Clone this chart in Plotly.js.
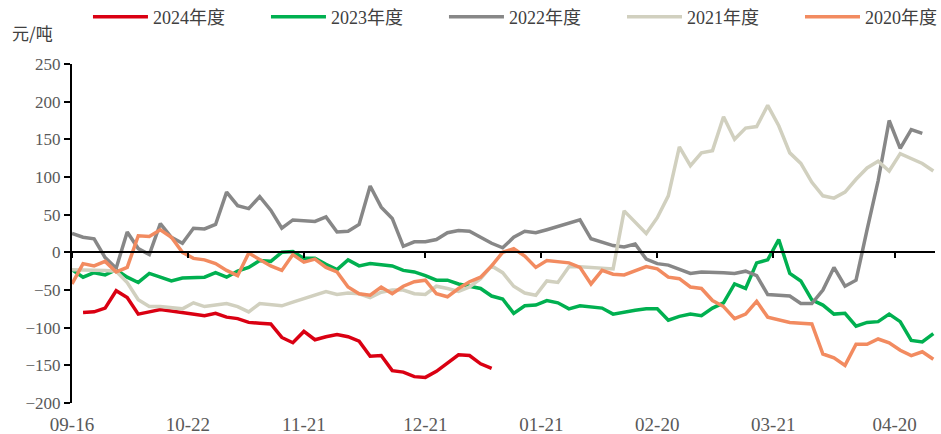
<!DOCTYPE html>
<html>
<head>
<meta charset="utf-8">
<script src="https://cdn.plot.ly/plotly-3.0.1.min.js"></script>
<style>html,body{margin:0;padding:0;background:#fff;}#chart{width:941px;height:434px;}</style>
</head>
<body>
<div id="chart"></div>
<script>
// trading-day index of each sample (every second trading day)
const days = Array.from({length: 79}, (_, k) => 2 * k);

// x-axis tick labels and the trading-day index where each falls
const tickLabels = ['09-16', '10-22', '11-21', '12-21', '01-21', '02-20', '03-21', '04-20'];
const tickDays = [0, 21, 42, 64, 85, 106, 127, 149];

const seriesNames = ['2024年度', '2023年度', '2022年度', '2021年度', '2020年度'];

// values in 元/吨
const y2024 = [null,-80,-79,-74,-51,-60,-82,-79,-76,-78,
  -80,-81,-84,-81,-86,-88,-93,-94,-95,-113,
  -120,-105,-116,-112,-109,-112,-118,-138,-137,-157,
  -159,-165,-166,-158,-147,-136,-137,-148,-154];

const y2023 = [-23,-33,-27,-30,-23,-33,-40,-28,-33,-38,
  -34,-34,-33,-27,-33,-25,-20,-11,-12,0,
  1,-8,-8,-16,-23,-10,-18,-15,-16,-18,
  -24,-26,-31,-37,-37,-42,-45,-48,-58,-62,
  -81,-71,-70,-64,-67,-75,-71,-73,-74,-82,
  -79,-77,-75,-75,-90,-85,-82,-84,-74,-67,
  -42,-48,-14,-10,17,-28,-38,-63,-70,-82,
  -81,-98,-93,-92,-82,-92,-117,-119,-108];

const y2022 = [25,20,18,-7,-21,27,5,-3,38,20,
  12,32,31,37,80,62,58,74,56,32,
  43,42,41,47,27,28,37,88,60,45,
  8,14,14,17,26,29,28,20,12,6,
  20,28,26,30,34,39,43,18,13,9,
  7,11,-9,-15,-17,-22,-28,-26,-26,-27,
  -28,-25,-31,-56,-57,-58,-68,-68,-50,-20,
  -45,-37,30,95,175,138,163,158];

const y2021 = [-23,-23,-24,-24,-25,-40,-63,-72,-72,-74,
  -75,-67,-72,-70,-68,-72,-79,-68,-69,-71,
  -66,-61,-57,-52,-56,-54,-55,-60,-53,-50,
  -50,-55,-56,-45,-48,-52,-46,-35,-18,-27,
  -45,-54,-57,-38,-40,-19,-19,-20,-21,-22,
  55,40,25,46,75,140,115,132,135,180,
  150,165,167,195,168,132,118,93,75,72,
  80,97,112,121,108,131,125,118,108];

const y2020 = [-42,-15,-18,-12,-26,-20,22,21,30,20,
  0,-8,-10,-15,-24,-31,-1,-10,-18,-24,
  -3,-13,-9,-20,-26,-46,-55,-57,-46,-55,
  -45,-39,-37,-55,-59,-48,-39,-33,-18,0,
  5,-5,-20,-11,-13,-14,-20,-42,-24,-29,
  -30,-25,-19,-22,-33,-35,-46,-48,-64,-72,
  -88,-82,-65,-86,-89,-93,-94,-95,-135,-140,
  -150,-122,-122,-115,-120,-130,-137,-132,-142];

const seriesValues = [y2024, y2023, y2022, y2021, y2020];
const colors = ['#DA0012', '#00B050', '#878787', '#D1D0BF', '#F28B60'];
const legendOf = ['legend', 'legend', 'legend', 'legend2', 'legend2'];

const traces = seriesValues.map((vals, i) => ({
  type: 'scatter',
  mode: 'lines',
  name: seriesNames[i],
  legend: legendOf[i],
  x: days.slice(0, vals.length),
  y: vals,
  line: {color: colors[i], width: 3.5},
  connectgaps: false,
  hoverinfo: 'skip'
}));
// carrier for the zero-line axis
traces.push({type: 'scatter', x: [null], y: [null], xaxis: 'x2', showlegend: false, hoverinfo: 'skip'});

const tickFont = {family: 'Liberation Serif, Noto Sans CJK SC, serif', size: 17, color: '#595959'};
const legendFont = {family: 'Liberation Serif, Noto Sans CJK SC, serif', size: 18, color: '#404040'};
const legendBase = {
  orientation: 'h', xanchor: 'left', y: 1.1386, yanchor: 'middle',
  font: legendFont, itemwidth: 55, entrywidth: 108, entrywidthmode: 'pixels',
  bgcolor: 'rgba(0,0,0,0)'
};

const layout = {
  width: 941, height: 434,
  margin: {l: 72, r: 6, t: 64, b: 31, autoexpand: false},
  paper_bgcolor: '#ffffff', plot_bgcolor: '#ffffff',
  showlegend: true,
  legend: Object.assign({}, legendBase, {x: 0.0185}),
  legend2: Object.assign({}, legendBase, {x: 0.6373}),
  xaxis: {
    range: [0, 156.3], tickmode: 'array', tickvals: tickDays, ticktext: tickLabels,
    showline: false, zeroline: false, showgrid: false, ticks: '',
    tickfont: Object.assign({}, tickFont, {size: 19}), ticklabelstandoff: 8
  },
  xaxis2: {
    overlaying: 'x', anchor: 'free', position: 200 / 450, side: 'bottom',
    range: [0, 156.3], tickmode: 'array', tickvals: tickDays, showticklabels: false,
    showline: true, linecolor: '#000000', linewidth: 2,
    ticks: 'outside', ticklen: 5, tickwidth: 2, tickcolor: '#000000',
    showgrid: false, zeroline: false
  },
  yaxis: {
    range: [-200, 250], tick0: 0, dtick: 50,
    showline: true, linecolor: '#000000', linewidth: 2,
    ticks: 'outside', ticklen: 6, tickwidth: 2, tickcolor: '#000000',
    showgrid: false, zeroline: false, tickfont: tickFont
  },
  annotations: [{
    text: '元/吨', xref: 'paper', yref: 'paper', x: -0.0718, xanchor: 'left',
    y: 1.094, yanchor: 'middle', showarrow: false,
    font: {family: 'Noto Sans CJK SC, sans-serif', size: 17, color: '#404040'}
  }]
};

Plotly.newPlot('chart', traces, layout, {displayModeBar: false, staticPlot: true}).then(() => {
  // lengthen the legend line samples to match the reference's longer keys
  document.querySelectorAll('.legend .legendlines path').forEach(p => p.setAttribute('d', 'M5,0h55'));
});
</script>
</body>
</html>
